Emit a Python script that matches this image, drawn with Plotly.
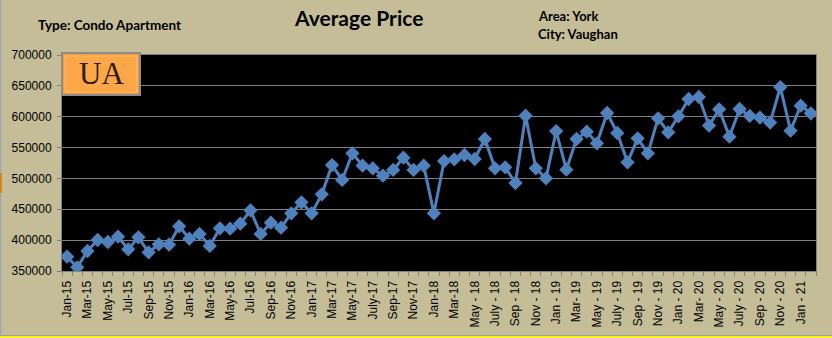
import plotly.graph_objects as go

# ---------------- data ----------------
months = ["Jan", "Feb", "Mar", "Apr", "May", "Jun", "Jul", "Aug", "Sep", "Oct", "Nov", "Dec"]
categories = []
for yr in range(15, 22):
    for m in months:
        categories.append(f"{m}-{yr}")
categories = categories[:74]  # Jan-15 .. Feb-21

avg_price = [
    373200, 356000, 382400, 400200, 397000, 405600, 385100, 404500, 380200, 393300, 392700, 422400,
    402400, 410000, 390600, 419200, 418600, 426700, 448300, 410000, 428300, 420200, 443500, 461300,
    443500, 474200, 521700, 497500, 540700, 520700, 516400, 504400, 513700, 533600, 513700, 520700,
    443500, 528200, 531000, 538000, 531500, 563900, 516400, 518000, 492600, 601700, 516400, 500200,
    576800, 514200, 563900, 575800, 556900, 606000, 573600, 526100, 565000, 540700, 597400, 574700,
    600700, 628700, 632000, 585600, 612000, 567700, 612500, 601200, 598600, 590500, 648100, 577400,
    617900, 605500,
]

# tick labels shown on every second category (as printed on the reference)
tick_labels = [
    "Jan-15", "Mar-15", "May-15", "Jul-15", "Sep-15", "Nov-15",
    "Jan-16", "Mar-16", "May-16", "Jul-16", "Sep-16", "Nov-16",
    "Jan-17", "Mar-17", "May-17", "July-17", "Sep-17", "Nov-17",
    "Jan-18", "Mar-18", "May - 18", "July - 18", "Sep - 18", "Nov - 18",
    "Jan - 19", "Mar- 19", "May - 19", "July - 19", "Sep - 19", "Nov - 19",
    "Jan - 20", "Mar- 20", "May - 20", "July - 20", "Sep - 20", "Nov - 20",
    "Jan - 21",
]
y_ticks = [350000, 400000, 450000, 500000, 550000, 600000, 650000, 700000]

# build tick text: label on even categories, blank on odd ones
ticktext = []
li = 0
for i, c in enumerate(categories):
    if i % 2 == 0 and li < len(tick_labels):
        ticktext.append(tick_labels[li])
        li += 1
    else:
        ticktext.append("")

# ---------------- figure ----------------
W, H = 832, 338
ML, MR, MT, MB = 62, 16, 55, 67
PW, PH = W - ML - MR, H - MT - MB

def px(x):
    return (x - ML) / PW

def py(y):
    return (H - MB - y) / PH

BG = "#C4BD97"
BLUE = "#4F81BD"

fig = go.Figure()
fig.add_trace(go.Scatter(
    x=categories, y=avg_price, mode="lines+markers",
    line=dict(color=BLUE, width=3),
    marker=dict(symbol="diamond", size=11, color=BLUE),
    showlegend=False, hoverinfo="x+y",
))

fig.update_layout(
    width=W, height=H,
    margin=dict(l=ML, r=MR, t=MT, b=MB),
    paper_bgcolor=BG, plot_bgcolor="black",
    font=dict(family="Liberation Sans, Arial, sans-serif", size=12, color="black"),
    showlegend=False,
)
fig.update_xaxes(
    type="category", tickmode="array", tickvals=categories, ticktext=ticktext,
    tickson="boundaries", ticks="outside", ticklen=4, tickcolor="#808080",
    tickangle=-90, tickfont=dict(size=12, family="Liberation Sans, Arial"),
    ticklabelstandoff=4, automargin=False,
    showgrid=False, showline=True, linecolor="#808080", linewidth=1, mirror=True,
    range=[-0.5, len(categories) - 0.5],
)
fig.update_yaxes(
    range=[350000, 700000], tickmode="array", tickvals=y_ticks,
    ticktext=[str(v) for v in y_ticks],
    ticks="outside", ticklen=4, tickcolor="#808080",
    tickfont=dict(size=12, family="Liberation Sans, Arial"),
    ticklabelstandoff=3, automargin=False,
    showgrid=True, gridcolor="#808080", gridwidth=1, zeroline=False,
    showline=True, linecolor="#808080", linewidth=1, mirror=True,
)

shapes = [
    # logo button
    dict(type="rect", xref="paper", yref="paper",
         x0=px(62), x1=px(140), y0=py(95), y1=py(53),
         fillcolor="#F79A3A", line=dict(color="#8C8C8C", width=2), layer="above"),
    dict(type="rect", xref="paper", yref="paper",
         x0=px(65), x1=px(137), y0=py(92), y1=py(56),
         fillcolor="#FBA748", line=dict(color="#FDBF73", width=1), layer="above"),
    # left border of the frame
    dict(type="line", xref="paper", yref="paper",
         x0=px(0.5), x1=px(0.5), y0=py(0), y1=py(336),
         line=dict(color="#A3A9B0", width=2)),
    dict(type="line", xref="paper", yref="paper",
         x0=px(1), x1=px(1), y0=py(173), y1=py(193),
         line=dict(color="#D08A20", width=2)),
    # bottom border
    dict(type="line", xref="paper", yref="paper",
         x0=px(0), x1=px(832), y0=py(335.5), y1=py(335.5),
         line=dict(color="#A0A0A0", width=1)),
    dict(type="line", xref="paper", yref="paper",
         x0=px(0), x1=px(832), y0=py(337.3), y1=py(337.3),
         line=dict(color="#FFFF00", width=2)),
]
fig.update_layout(shapes=shapes)

hdr_font = "Lato, Open Sans, sans-serif"
annotations = [
    dict(text="<b>Average Price</b>", x=px(358), y=py(17), xref="paper", yref="paper",
         xanchor="center", yanchor="middle", showarrow=False,
         font=dict(family=hdr_font, size=21, color="black")),
    dict(text="<b>Type: Condo Apartment</b>", x=px(36), y=py(25), xref="paper", yref="paper",
         xanchor="left", yanchor="middle", showarrow=False,
         font=dict(family=hdr_font, size=13.5, color="black")),
    dict(text="<b>Area: York</b>", x=px(536), y=py(16), xref="paper", yref="paper",
         xanchor="left", yanchor="middle", showarrow=False,
         font=dict(family=hdr_font, size=13, color="black")),
    dict(text="<b>City: Vaughan</b>", x=px(536), y=py(34), xref="paper", yref="paper",
         xanchor="left", yanchor="middle", showarrow=False,
         font=dict(family=hdr_font, size=13, color="black")),
    dict(text="UA", x=px(101), y=py(74), xref="paper", yref="paper",
         xanchor="center", yanchor="middle", showarrow=False,
         font=dict(family="Liberation Serif, Times New Roman, serif", size=31, color="#2B1E0C")),
]
fig.update_layout(annotations=annotations)

fig.write_html("out.html")
